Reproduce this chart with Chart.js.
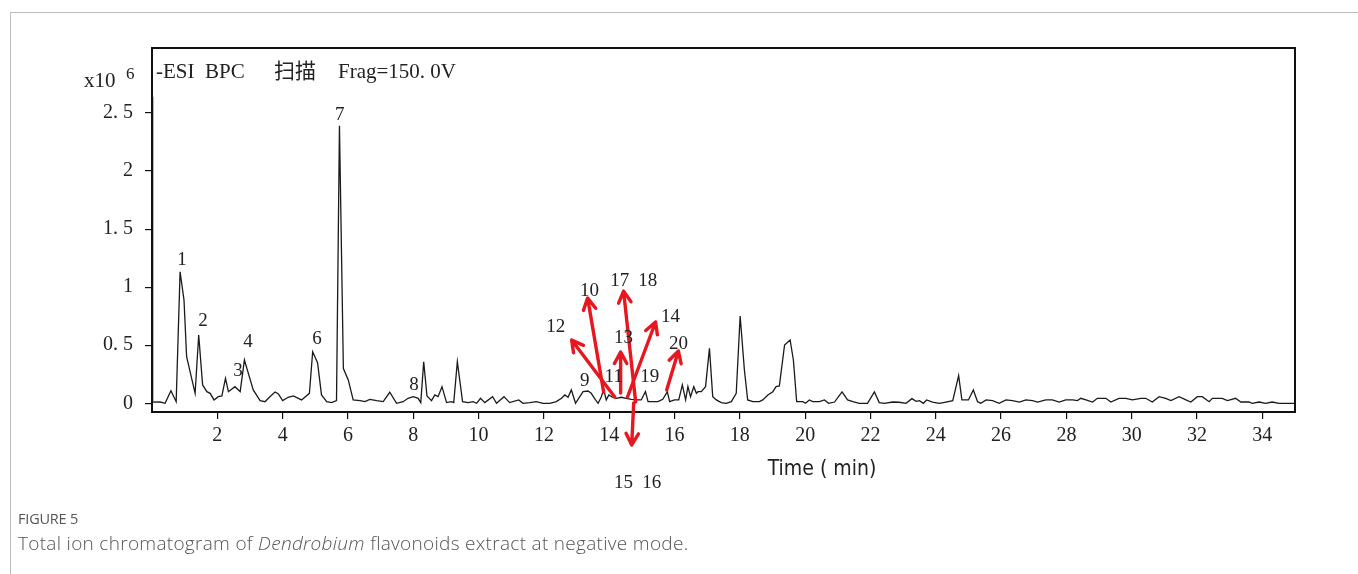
<!DOCTYPE html>
<html>
<head>
<meta charset="utf-8">
<script src="https://cdn.jsdelivr.net/npm/chart.js@4"></script>
<style>
  body { margin: 0; background: #fff; }
  .wrap { position: relative; width: 1358px; height: 574px; overflow: hidden; }
  .frame { position: absolute; left: 10px; top: 12px; width: 1400px; height: 600px;
           border-top: 1px solid #bdbdbd; border-left: 1px solid #bdbdbd; }
  canvas { position: absolute; left: 0; top: 0; }
  .fig { position: absolute; left: 18px; top: 509px; font-family: "Open Sans", sans-serif;
         font-size: 14.5px; color: #555; letter-spacing: -0.2px; }
  .cap { position: absolute; left: 18px; top: 530px; font-family: "Open Sans", sans-serif;
         font-size: 19px; color: #555; font-weight: 300; letter-spacing: 0.3px; }
</style>
</head>
<body>
<div class="wrap">
  <div class="frame"></div>
  <canvas id="myChart" width="1358" height="574"></canvas>
  <div class="fig">FIGURE 5</div>
  <div class="cap">Total ion chromatogram of <i>Dendrobium</i> flavonoids extract at negative mode.</div>
</div>
<script>
// retention time, min
const retentionTime = [
  0.00, 0.02, 0.25, 0.40, 0.58, 0.74, 0.86, 0.98, 1.06, 1.32, 1.43, 1.55, 1.68, 1.78, 1.90,
  2.03, 2.14, 2.25, 2.34, 2.54, 2.70, 2.83, 2.95, 3.10, 3.31, 3.46, 3.61, 3.77, 3.87, 4.00,
  4.17, 4.33, 4.48, 4.58, 4.82, 4.92, 5.07, 5.19, 5.35, 5.50, 5.65, 5.74, 5.86, 6.01, 6.16,
  6.37, 6.52, 6.67, 6.88, 7.08, 7.28, 7.49, 7.69, 7.84, 8.00, 8.15, 8.23, 8.32, 8.42, 8.56,
  8.66, 8.76, 8.88, 9.02, 9.17, 9.24, 9.35, 9.51, 9.68, 9.83, 9.94, 10.06, 10.19, 10.43, 10.55,
  10.78, 10.95, 11.23, 11.36, 11.57, 11.77, 11.97, 12.18, 12.38, 12.54, 12.64, 12.74, 12.84, 12.97, 13.10,
  13.20, 13.35, 13.45, 13.55, 13.66, 13.76, 13.83, 13.91, 13.99, 14.10, 14.22, 14.37, 14.52, 14.68, 14.83,
  14.98, 15.11, 15.19, 15.34, 15.49, 15.64, 15.78, 15.85, 16.00, 16.13, 16.24, 16.34, 16.41, 16.49, 16.59,
  16.67, 16.72, 16.82, 16.95, 17.07, 17.17, 17.28, 17.43, 17.58, 17.74, 17.89, 18.01, 18.14, 18.24, 18.40,
  18.60, 18.70, 18.86, 19.01, 19.11, 19.21, 19.37, 19.54, 19.64, 19.74, 19.93, 20.01, 20.13, 20.23, 20.44,
  20.59, 20.72, 20.90, 21.13, 21.30, 21.46, 21.66, 21.91, 22.12, 22.27, 22.43, 22.68, 22.88, 23.09, 23.27,
  23.40, 23.50, 23.62, 23.72, 23.90, 24.11, 24.31, 24.52, 24.70, 24.80, 25.00, 25.15, 25.28, 25.38, 25.54,
  25.74, 25.94, 26.15, 26.35, 26.56, 26.76, 26.96, 27.12, 27.37, 27.57, 27.78, 27.98, 28.19, 28.34, 28.44,
  28.60, 28.80, 28.95, 29.21, 29.36, 29.61, 29.82, 30.02, 30.28, 30.43, 30.63, 30.84, 31.04, 31.20, 31.45,
  31.66, 31.81, 32.01, 32.16, 32.37, 32.47, 32.77, 32.93, 33.18, 33.34, 33.59, 33.69, 33.90, 34.10, 34.30,
  34.51, 34.71, 34.92, 35.00
];

// BPC intensity, x10^6
const intensity = [
  2.64, 0.010, 0.011, 0.000, 0.108, 0.014, 1.133, 0.889, 0.401, 0.086, 0.588, 0.158, 0.100, 0.086, 0.029,
  0.057, 0.063, 0.215, 0.100, 0.143, 0.100, 0.373, 0.258, 0.115, 0.023, 0.014, 0.057, 0.097, 0.080, 0.023,
  0.052, 0.063, 0.043, 0.029, 0.086, 0.444, 0.349, 0.072, 0.014, 0.006, 0.023, 2.390, 0.299, 0.201, 0.029,
  0.023, 0.014, 0.034, 0.023, 0.014, 0.095, 0.000, 0.014, 0.043, 0.057, 0.043, 0.006, 0.358, 0.063, 0.023,
  0.072, 0.057, 0.143, 0.006, 0.014, 0.006, 0.358, 0.014, 0.006, 0.014, 0.000, 0.043, 0.006, 0.057, 0.000,
  0.057, 0.006, 0.029, 0.000, 0.006, 0.014, 0.000, 0.000, 0.014, 0.043, 0.072, 0.052, 0.115, 0.000, 0.057,
  0.100, 0.106, 0.086, 0.043, 0.000, 0.057, 0.120, 0.029, 0.072, 0.052, 0.043, 0.052, 0.043, 0.034, 0.029,
  0.029, 0.100, 0.014, 0.014, 0.014, 0.034, 0.100, 0.014, 0.029, 0.029, 0.158, 0.029, 0.143, 0.057, 0.143,
  0.086, 0.100, 0.100, 0.143, 0.473, 0.057, 0.029, 0.006, 0.000, 0.014, 0.086, 0.752, 0.287, 0.029, 0.014,
  0.014, 0.029, 0.072, 0.100, 0.143, 0.149, 0.502, 0.545, 0.373, 0.014, 0.014, 0.000, 0.029, 0.014, 0.014,
  0.029, 0.000, 0.011, 0.098, 0.029, 0.014, 0.000, 0.000, 0.098, 0.006, 0.000, 0.011, 0.009, 0.000, 0.040,
  0.017, 0.023, 0.000, 0.029, 0.011, 0.000, 0.011, 0.023, 0.238, 0.029, 0.029, 0.115, 0.014, 0.000, 0.029,
  0.023, 0.000, 0.029, 0.023, 0.011, 0.029, 0.023, 0.011, 0.029, 0.029, 0.011, 0.029, 0.029, 0.023, 0.043,
  0.029, 0.011, 0.043, 0.043, 0.011, 0.043, 0.043, 0.029, 0.043, 0.043, 0.011, 0.057, 0.043, 0.023, 0.057,
  0.029, 0.011, 0.057, 0.057, 0.014, 0.043, 0.043, 0.023, 0.043, 0.011, 0.011, 0.000, 0.011, 0.000, 0.011,
  0.000, 0.000, 0.000, 0.000
];

const xTicks = [2, 4, 6, 8, 10, 12, 14, 16, 18, 20, 22, 24, 26, 28, 30, 32, 34];
const yTicks = [0, 0.5, 1, 1.5, 2, 2.5];

// peak numbers and where they are written (time, intensity)
const peakNames = ["1", "2", "3", "4", "6", "7", "8", "9", "10", "11", "12", "13", "14", "17", "18", "19", "20", "15", "16"];
const peakLabelT = [0.92, 1.56, 2.63, 2.94, 5.05, 5.75, 8.02, 13.25, 13.40, 14.14, 12.36, 14.44, 15.88, 14.32, 15.18, 15.24, 16.12, 14.44, 15.30];
const peakLabelV = [1.233, 0.708, 0.278, 0.528, 0.553, 2.481, 0.158, 0.192, 0.967, 0.226, 0.657, 0.562, 0.743, 1.053, 1.053, 0.226, 0.510, -0.685, -0.685];

// red arrows: from (t, v) to (t, v)
const arrowFromT = [14.17, 13.83, 14.35, 14.81, 14.75, 14.56, 15.76];
const arrowFromV = [0.054, 0.097, 0.089, 0.011, 0.003, 0.054, 0.114];
const arrowToT = [12.85, 13.34, 14.35, 14.44, 14.69, 15.42, 16.12];
const arrowToV = [0.545, 0.906, 0.441, 0.966, -0.359, 0.700, 0.450];

const serif = "'Liberation Serif', 'Noto Sans CJK SC', serif";

const extras = {
  id: "extras",
  afterDraw(chart) {
    const ctx = chart.ctx;
    const a = chart.chartArea;
    const xs = chart.scales.x;
    const ys = chart.scales.y;
    ctx.save();

    // box round the plot
    ctx.strokeStyle = "#111";
    ctx.lineWidth = 2;
    ctx.strokeRect(a.left, a.top, a.right - a.left, a.bottom - a.top);

    // header texts
    ctx.fillStyle = "#222";
    ctx.textBaseline = "middle";
    ctx.font = "21px " + serif;
    ctx.textAlign = "left";
    ctx.fillText("-ESI  BPC", a.left + 4, a.top + 24);
    ctx.fillText("扫描", a.left + 122, a.top + 24);
    ctx.fillText("Frag=150. 0V", a.left + 186, a.top + 24);
    ctx.fillText("x10", a.left - 68, a.top + 33);
    ctx.font = "17px " + serif;
    ctx.fillText("6", a.left - 26, a.top + 27);

    // arrows
    ctx.strokeStyle = "#e8161e";
    ctx.lineWidth = 3.4;
    ctx.lineCap = "round";
    ctx.lineJoin = "round";
    for (let i = 0; i < arrowFromT.length; i++) {
      const x1 = xs.getPixelForValue(arrowFromT[i]);
      const y1 = ys.getPixelForValue(arrowFromV[i]);
      const x2 = xs.getPixelForValue(arrowToT[i]);
      const y2 = ys.getPixelForValue(arrowToV[i]);
      const ang = Math.atan2(y2 - y1, x2 - x1);
      ctx.beginPath();
      ctx.moveTo(x1, y1);
      ctx.lineTo(x2, y2);
      ctx.moveTo(x2 - 13 * Math.cos(ang - 0.5), y2 - 13 * Math.sin(ang - 0.5));
      ctx.lineTo(x2, y2);
      ctx.lineTo(x2 - 13 * Math.cos(ang + 0.5), y2 - 13 * Math.sin(ang + 0.5));
      ctx.stroke();
    }

    // peak numbers
    ctx.fillStyle = "#222";
    ctx.font = "19px " + serif;
    ctx.textAlign = "center";
    peakNames.forEach((name, i) => {
      ctx.fillText(name, xs.getPixelForValue(peakLabelT[i]), ys.getPixelForValue(peakLabelV[i]));
    });

    // axis title
    ctx.font = "21px 'Liberation Sans Narrow', 'DejaVu Sans Condensed', sans-serif";
    ctx.fillText("Time ( min)", 822, 470);
    ctx.restore();
  }
};

const ctx = document.getElementById("myChart");

const data = {
  datasets: [{
    label: "BPC",
    data: retentionTime.map((t, i) => ({ x: t, y: intensity[i] })),
    borderColor: "#1a1a1a",
    borderWidth: 1.3,
    pointRadius: 0,
    tension: 0,
    fill: false
  }]
};

const config = {
  type: "line",
  data: data,
  options: {
    responsive: false,
    animation: false,
    devicePixelRatio: 1,
    layout: { padding: { top: 48, right: 63, left: 0, bottom: 0 } },
    plugins: { legend: { display: false }, tooltip: { enabled: false } },
    scales: {
      x: {
        type: "linear",
        min: 0,
        max: 35,
        afterBuildTicks: (scale) => { scale.ticks = xTicks.map(v => ({ value: v })); },
        afterFit: (scale) => { scale.height = 162; },
        grid: { drawOnChartArea: false, drawTicks: true, tickLength: 7, color: "#111", lineWidth: 1.2 },
        border: { display: true, color: "#111", width: 2 },
        ticks: { font: { family: serif, size: 20 }, color: "#222", padding: 5, maxRotation: 0, autoSkip: false }
      },
      y: {
        min: -0.075,
        max: 3.06,
        afterBuildTicks: (scale) => { scale.ticks = yTicks.map(v => ({ value: v })); },
        afterFit: (scale) => { scale.width = 152; },
        grid: { drawOnChartArea: false, drawTicks: true, tickLength: 7, color: "#111", lineWidth: 1.2 },
        border: { display: true, color: "#111", width: 2 },
        ticks: {
          font: { family: serif, size: 20 },
          color: "#222",
          padding: 12,
          callback: (v) => String(v).replace(".", ". ")
        }
      }
    }
  },
  plugins: [extras]
};

const myChart = new Chart(ctx, config);
</script>
</body>
</html>
